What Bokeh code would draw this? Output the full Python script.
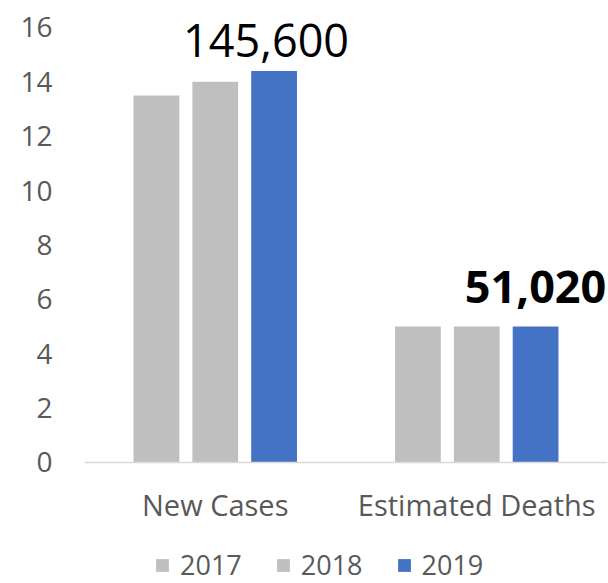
from bokeh.plotting import figure
from bokeh.models import FactorRange, Range1d, ColumnDataSource, Legend, LegendItem, FixedTicker
from bokeh.transform import dodge
from bokeh.core.properties import value
from bokeh.embed import file_html
from bokeh.resources import INLINE

categories = ["New Cases", "Estimated Deaths"]
years = ["2017", "2018", "2019"]
values_2017 = [13.5, 5.0]
values_2018 = [14.0, 5.0]
values_2019 = [14.4, 5.0]
annotations = ["145,600", "51,020"]
y_ticks = [0, 2, 4, 6, 8, 10, 12, 14, 16]
colors = ["#BFBFBF", "#BFBFBF", "#4472C4"]

FONT = "Open Sans"
GREY_TXT = "#595959"

source = ColumnDataSource(dict(
    cat=categories,
    y2017=values_2017,
    y2018=values_2018,
    y2019=values_2019,
    label=annotations,
    lstyle=["normal", "bold"],
    lsize=["45px", "45px"],
    lxoff=[-8, 0],
    lyoff=[-30, -40],
))

# frame spans the whole height; the category axis sits at y = 0 inside it
p = figure(
    x_range=FactorRange(*categories, range_padding=0),
    y_range=Range1d(-4.45, 16.99),
    width=608, height=583,
    output_backend="svg", toolbar_location=None,
    min_border_left=84, min_border_right=1, min_border_top=0, min_border_bottom=0,
)
p.outline_line_color = None
p.grid.visible = False

offsets = [-0.225, 0.0, 0.225]
renderers = []
for yr, off, col in zip(years, offsets, colors):
    r = p.vbar(x=dodge("cat", off, range=p.x_range), top="y" + yr, bottom=0, width=0.175,
               source=source, fill_color=col, line_color=None)
    renderers.append(r)

p.text(x=dodge("cat", 0.225, range=p.x_range), y="y2019", text="label", source=source,
       text_font=value(FONT), text_font_size="lsize", text_font_style="lstyle",
       text_color="black", text_align="center", text_baseline="alphabetic",
       x_offset="lxoff", y_offset="lyoff")

# axes
p.yaxis.ticker = FixedTicker(ticks=y_ticks)
p.yaxis.axis_line_color = None
p.yaxis.major_tick_line_color = None
p.yaxis.minor_tick_line_color = None
p.yaxis.major_label_text_font = FONT
p.yaxis.major_label_text_font_size = "28px"
p.yaxis.major_label_text_color = GREY_TXT
p.yaxis.major_label_standoff = 26

p.xaxis.fixed_location = 0
p.xaxis.axis_line_color = "#D9D9D9"
p.xaxis.axis_line_width = 1.5
p.xaxis.major_tick_line_color = None
p.xaxis.minor_tick_line_color = None
p.xaxis.major_label_text_font = FONT
p.xaxis.major_label_text_font_size = "29px"
p.xaxis.major_label_text_color = GREY_TXT
p.xaxis.major_label_standoff = 17

legend = Legend(
    items=[LegendItem(label=yr, renderers=[r]) for yr, r in zip(years, renderers)],
    orientation="horizontal",
    location=(70, 0),
    border_line_color=None,
    background_fill_alpha=0,
    label_text_font=FONT,
    label_text_font_size="27px",
    label_text_color=GREY_TXT,
    glyph_width=16, glyph_height=16,
    label_standoff=10,
    spacing=33,
    padding=0, margin=0,
)
p.add_layout(legend, "center")

open("out.html", "w").write(file_html(p, INLINE))
